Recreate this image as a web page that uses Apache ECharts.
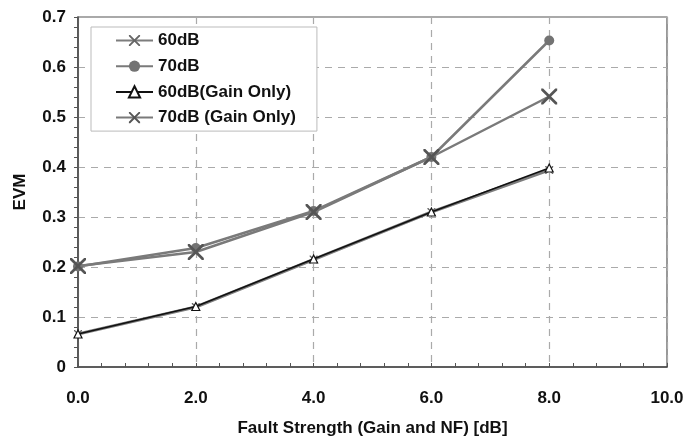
<!DOCTYPE html>
<html>
<head>
<meta charset="utf-8">
<script src="https://cdn.jsdelivr.net/npm/echarts@6/dist/echarts.min.js"></script>
<style>
  html, body { margin: 0; padding: 0; background: #fff; }
  #chart { width: 700px; height: 442px; }
</style>
</head>
<body>
<div id="chart"></div>
<script>
// Fault strength (dB) on the x axis
const faultStrength = [0, 2, 4, 6, 8];

// EVM per configuration
const evm60dB = [0.066, 0.120, 0.215, 0.310, 0.394];
const evm70dB = [0.201, 0.238, 0.312, 0.420, 0.653];
const evm60dBGainOnly = [0.066, 0.121, 0.216, 0.310, 0.398];
const evm70dBGainOnly = [0.202, 0.230, 0.310, 0.420, 0.541];

const seriesNames = ['60dB', '70dB', '60dB(Gain Only)', '70dB (Gain Only)'];

const FONT = 'Liberation Sans, Arial, sans-serif';
const crossPath = 'path://M0,0 L1.2,0 L5,3.8 L8.8,0 L10,0 L10,1.2 L6.2,5 L10,8.8 L10,10 L8.8,10 L5,6.2 L1.2,10 L0,10 L0,8.8 L3.8,5 L0,1.2 Z';

function pairs(values) {
  return faultStrength.map((x, i) => [x, values[i]]);
}

const textBold = (size) => ({ fontFamily: FONT, fontWeight: 'bold', fontSize: size, color: '#111' });

const chart = echarts.init(document.getElementById('chart'), null, { renderer: 'canvas' });

chart.setOption({
  animation: false,
  backgroundColor: '#ffffff',
  grid: {
    left: 78, right: 33, top: 17, bottom: 73,
    show: true, borderColor: '#555', borderWidth: 1.2, backgroundColor: 'transparent'
  },
  legend: {
    data: seriesNames,
    orient: 'vertical',
    left: 91, top: 27,
    padding: [5, 21, 5, 24],
    itemWidth: 37, itemHeight: 14, itemGap: 8.7,
    backgroundColor: '#fff',
    borderColor: '#bbb', borderWidth: 1,
    textStyle: textBold(17)
  },
  xAxis: {
    type: 'value', min: 0, max: 10, interval: 2,
    name: 'Fault Strength (Gain and NF) [dB]',
    nameLocation: 'middle', nameGap: 53,
    nameTextStyle: textBold(17),
    axisLine: { show: true, lineStyle: { color: '#444', width: 1.5 } },
    axisTick: { show: true, inside: true, length: 4, lineStyle: { color: '#555' } },
    minorTick: { show: true, splitNumber: 5, length: 4, lineStyle: { color: '#555' } },
    axisLabel: Object.assign({ margin: 23, formatter: v => v.toFixed(1) }, textBold(17)),
    splitLine: { show: true, lineStyle: { color: '#aaa', width: 1.2, type: [7, 6] } }
  },
  yAxis: {
    type: 'value', min: 0, max: 0.7, interval: 0.1,
    name: 'EVM',
    nameLocation: 'middle', nameGap: 49, nameRotate: 90,
    nameTextStyle: textBold(17),
    axisLine: { show: true, lineStyle: { color: '#444', width: 1.5 } },
    axisTick: { show: true, inside: false, length: 4, lineStyle: { color: '#555' } },
    minorTick: { show: true, splitNumber: 5, length: 4, lineStyle: { color: '#555' } },
    axisLabel: Object.assign({ margin: 12, formatter: v => (v === 0 ? '0' : v.toFixed(1)) }, textBold(17)),
    splitLine: { show: true, lineStyle: { color: '#aaa', width: 1.2, type: [7, 6] } }
  },
  series: [
    {
      name: seriesNames[0], type: 'line', data: pairs(evm60dB), z: 2,
      symbol: crossPath, symbolSize: 8,
      lineStyle: { color: '#7d7d7d', width: 3 },
      itemStyle: { color: '#666' }
    },
    {
      name: seriesNames[1], type: 'line', data: pairs(evm70dB), z: 3,
      symbol: 'circle', symbolSize: 10,
      lineStyle: { color: '#7a7a7a', width: 2.5 },
      itemStyle: { color: '#737373' }
    },
    {
      name: seriesNames[2], type: 'line', data: pairs(evm60dBGainOnly), z: 5,
      symbol: 'triangle', symbolSize: 8,
      lineStyle: { color: '#111', width: 1.5 },
      itemStyle: { color: '#fff', borderColor: '#111', borderWidth: 1.2 }
    },
    {
      name: seriesNames[3], type: 'line', data: pairs(evm70dBGainOnly), z: 4,
      symbol: crossPath, symbolSize: 16,
      lineStyle: { color: '#7a7a7a', width: 2.5 },
      itemStyle: { color: '#555' }
    }
  ]
});
</script>
</body>
</html>
